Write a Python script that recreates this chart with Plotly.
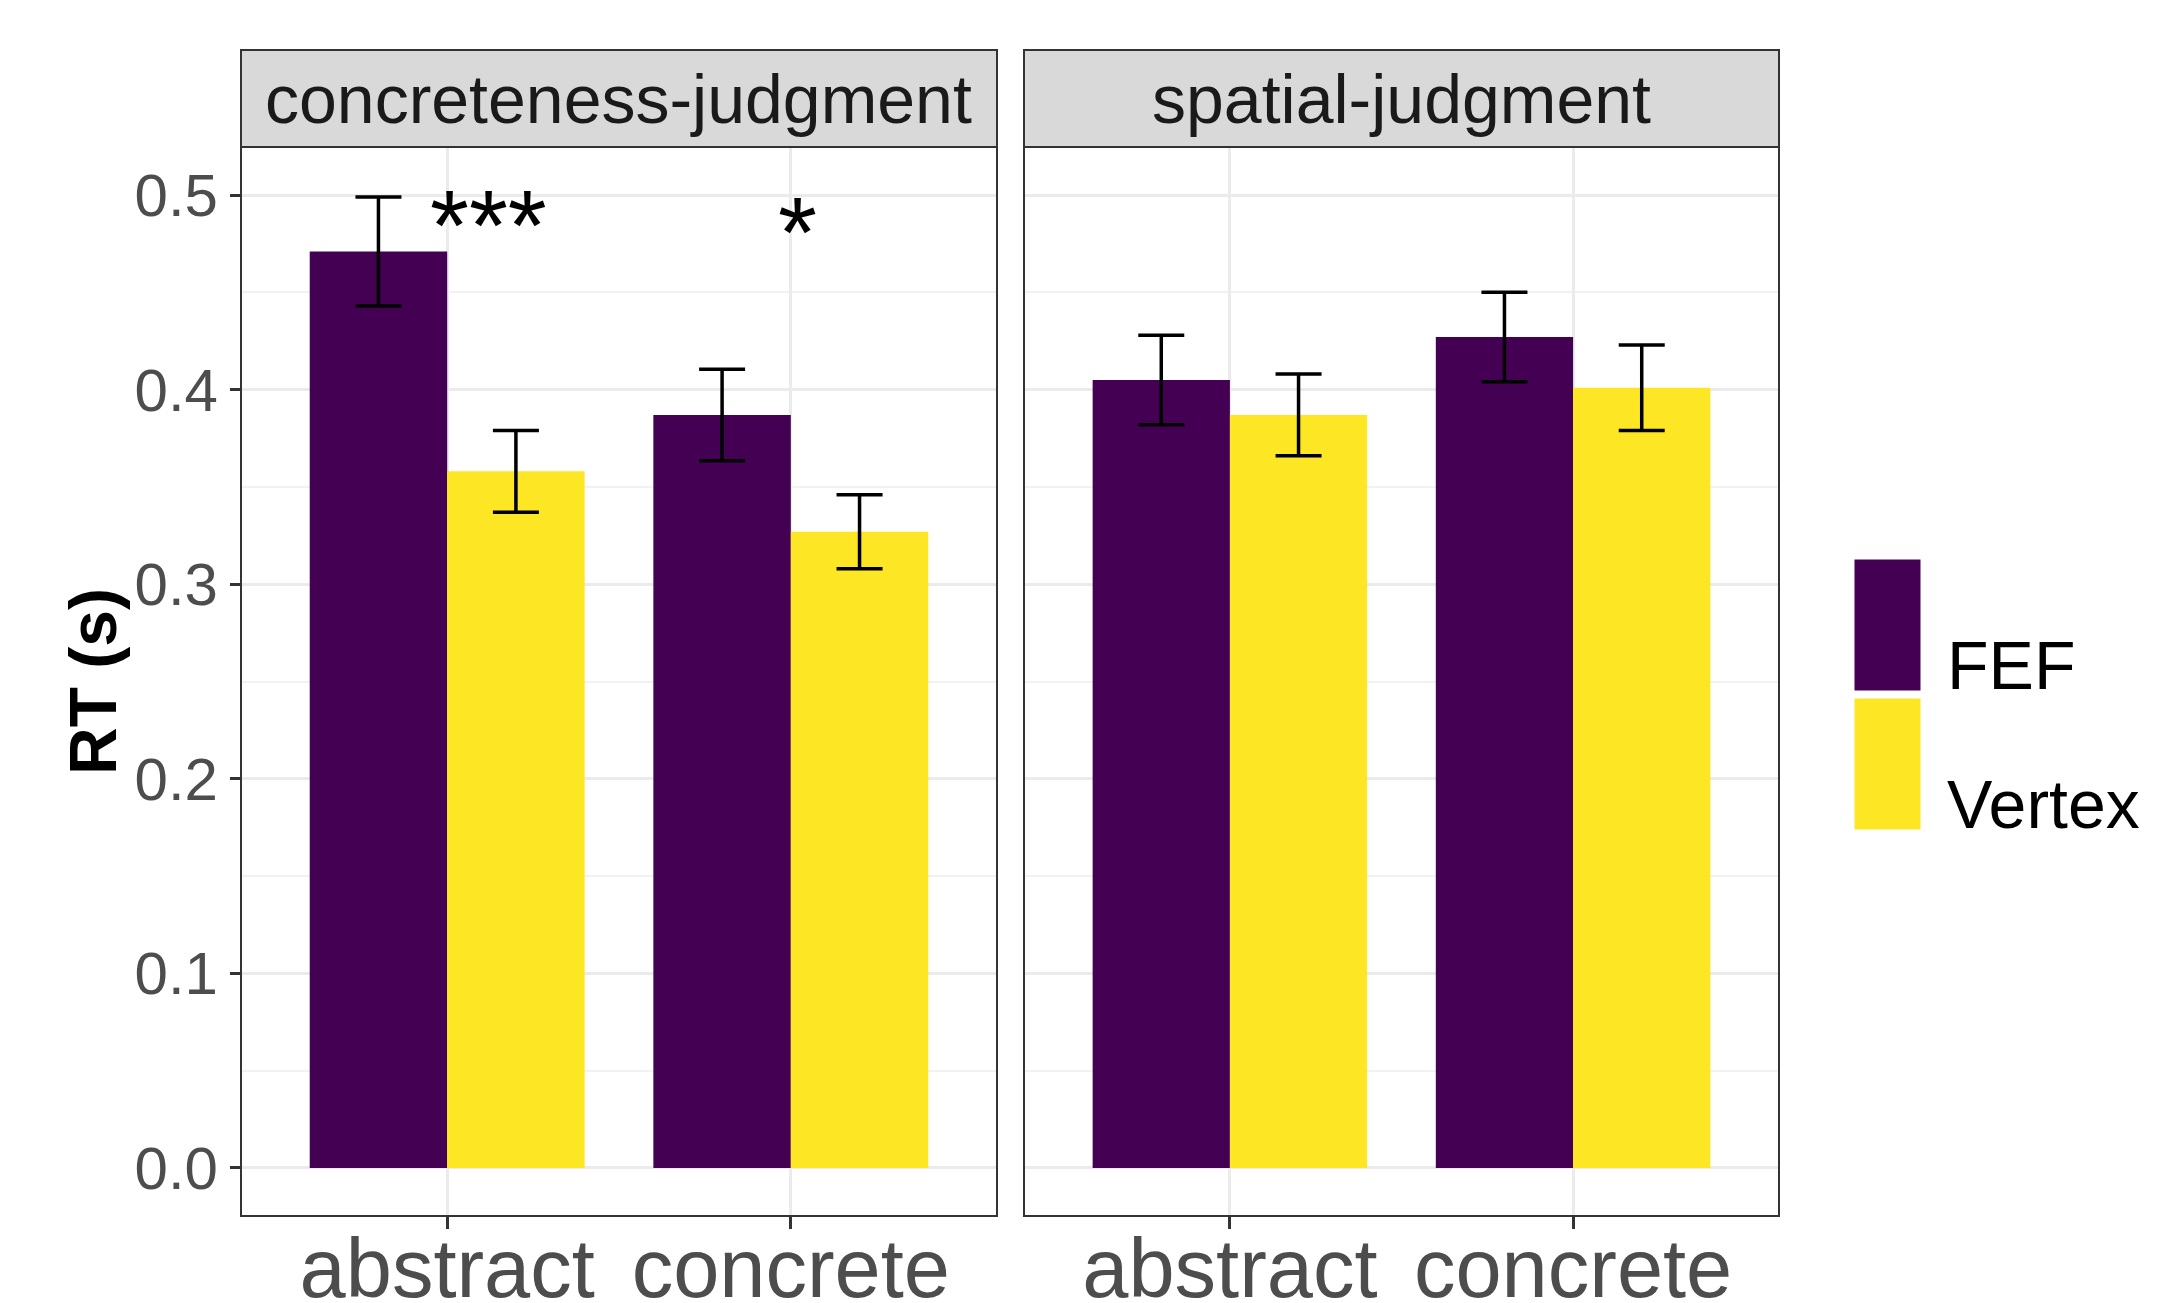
import plotly.graph_objects as go

# ---- data ----
tasks = ["concreteness-judgment", "spatial-judgment"]
word_types = ["abstract", "concrete"]
sites = ["FEF", "Vertex"]
colors = {"FEF": "#440154", "Vertex": "#FDE725"}

# mean RT (s) per task -> site -> [abstract, concrete]
rt_mean = {
    "concreteness-judgment": {"FEF": [0.471, 0.387], "Vertex": [0.358, 0.327]},
    "spatial-judgment": {"FEF": [0.405, 0.427], "Vertex": [0.387, 0.401]},
}
rt_se = {
    "concreteness-judgment": {"FEF": [0.028, 0.0235], "Vertex": [0.021, 0.019]},
    "spatial-judgment": {"FEF": [0.023, 0.023], "Vertex": [0.021, 0.022]},
}
sig_labels = ["***", "*"]
sig_x = [0.12, 1.02]
sig_y = [0.492, 0.488]

y_ticks = [0.0, 0.1, 0.2, 0.3, 0.4, 0.5]
y_tick_text = ["0.0", "0.1", "0.2", "0.3", "0.4", "0.5"]

W, H = 2181, 1303
OFF = 8  # page body margin
FONT = "Liberation Sans, Arial, sans-serif"

def px_x(p):
    return (p - OFF) / W

def px_y(p):
    return 1 - (p - OFF) / H

panel_x = [(241, 997), (1024, 1779)]
plot_top, plot_bot = 147, 1216
strip_top = 50

fig = go.Figure()
for i, task in enumerate(tasks):
    sfx = "" if i == 0 else str(i + 1)
    for site in sites:
        fig.add_trace(go.Bar(
            x=word_types,
            y=rt_mean[task][site],
            name=site,
            marker=dict(color=colors[site], line=dict(width=0)),
            error_y=dict(type="data", array=rt_se[task][site], color="black",
                         thickness=3.5, width=23),
            xaxis="x" + sfx, yaxis="y" + sfx,
            showlegend=False,
        ))

grid_major = "#EBEBEB"
yr = [-0.0247, 0.5247]
common_x = dict(type="category", range=[-0.6, 1.6], showgrid=True, gridcolor=grid_major,
                gridwidth=2.5, ticks="outside", ticklen=12, tickwidth=2.5, tickcolor="#333333",
                tickfont=dict(family=FONT, size=83, color="#4D4D4D"), automargin=False,
                ticklabelstandoff=-32,
                showline=False, zeroline=False, fixedrange=True)
common_y = dict(range=yr, tickvals=y_ticks, showgrid=True, gridcolor=grid_major, gridwidth=3,
                minor=dict(tickvals=[0.05, 0.15, 0.25, 0.35, 0.45], showgrid=True,
                           gridcolor="#F2F2F2", gridwidth=1.5),
                automargin=False, zeroline=False, showline=False, fixedrange=True)

fig.update_layout(
    width=W, height=H,
    margin=dict(l=0, r=0, t=0, b=0),
    paper_bgcolor="white", plot_bgcolor="white",
    barmode="group", bargap=0.2, bargroupgap=0,
    xaxis=dict(domain=[px_x(panel_x[0][0]), px_x(panel_x[0][1])], anchor="y", **common_x),
    xaxis2=dict(domain=[px_x(panel_x[1][0]), px_x(panel_x[1][1])], anchor="y2", **common_x),
    yaxis=dict(domain=[px_y(plot_bot), px_y(plot_top)], anchor="x",
               ticktext=y_tick_text, ticks="outside", ticklen=10, tickwidth=2.5, tickcolor="#333333",
               tickfont=dict(family=FONT, size=60, color="#4D4D4D"), **common_y),
    yaxis2=dict(domain=[px_y(plot_bot), px_y(plot_top)], anchor="x2", showticklabels=False,
                ticks="", **common_y),
    showlegend=False,
)

shapes = []
annotations = []
for i, task in enumerate(tasks):
    x0, x1 = px_x(panel_x[i][0]), px_x(panel_x[i][1])
    # panel border
    shapes.append(dict(type="rect", xref="paper", yref="paper", x0=x0, x1=x1,
                       y0=px_y(plot_bot), y1=px_y(plot_top),
                       line=dict(color="#333333", width=2), fillcolor="rgba(0,0,0,0)", layer="above"))
    # strip
    shapes.append(dict(type="rect", xref="paper", yref="paper", x0=x0, x1=x1,
                       y0=px_y(plot_top), y1=px_y(strip_top),
                       line=dict(color="#333333", width=2), fillcolor="#D9D9D9", layer="above"))
    annotations.append(dict(text=task, xref="paper", yref="paper", x=(x0 + x1) / 2,
                            y=(px_y(plot_top) + px_y(strip_top)) / 2, showarrow=False,
                            xanchor="center", yanchor="middle",
                            font=dict(family=FONT, size=68, color="#1A1A1A")))

# significance stars
for lab, sx, sy in zip(sig_labels, sig_x, sig_y):
    annotations.append(dict(text=lab, xref="x", yref="y", x=sx, y=sy,
                            showarrow=False, xanchor="center", yanchor="top", yshift=44,
                            font=dict(family=FONT, size=100, color="black")))

# y-axis title
annotations.append(dict(text="<b>RT (s)</b>", xref="paper", yref="paper", x=px_x(93),
                        y=px_y(682), showarrow=False, textangle=-90, xanchor="center",
                        yanchor="middle", font=dict(family=FONT, size=66, color="black")))

# legend (manual)
key_x0, key_x1 = 1854, 1921
key_rows = [(559, 691), (698, 830)]
for site, (k0, k1) in zip(sites, key_rows):
    shapes.append(dict(type="rect", xref="paper", yref="paper", x0=px_x(key_x0), x1=px_x(key_x1),
                       y0=px_y(k1), y1=px_y(k0), fillcolor=colors[site],
                       line=dict(color="white", width=1)))
legend_text_y = [665, 804]
for site, ty in zip(sites, legend_text_y):
    annotations.append(dict(text=site, xref="paper", yref="paper", x=px_x(1945), y=px_y(ty),
                            showarrow=False, xanchor="left", yanchor="middle",
                            font=dict(family=FONT, size=68, color="black")))

fig.update_layout(shapes=shapes, annotations=annotations)
fig.write_html("out.html")
